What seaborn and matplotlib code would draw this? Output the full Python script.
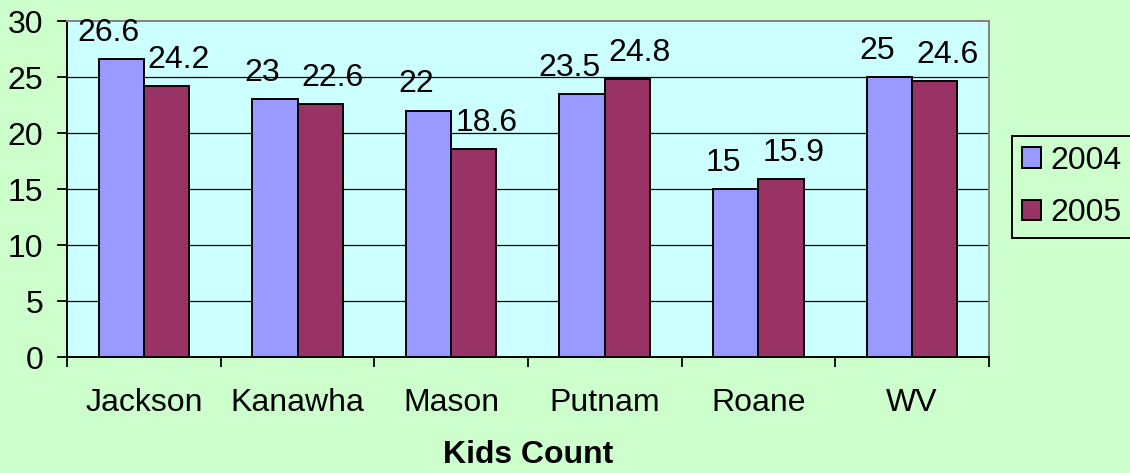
import pandas as pd
import matplotlib
matplotlib.use("Agg")
import matplotlib.pyplot as plt
import seaborn as sns

# Data
counties = ["Jackson", "Kanawha", "Mason", "Putnam", "Roane", "WV"]
years = ["2004", "2005"]
values_2004 = [26.6, 23, 22, 23.5, 15, 25]
values_2005 = [24.2, 22.6, 18.6, 24.8, 15.9, 24.6]
y_ticks = [0, 5, 10, 15, 20, 25, 30]

df = pd.DataFrame({
    "county": counties * 2,
    "year": [years[0]] * len(counties) + [years[1]] * len(counties),
    "value": values_2004 + values_2005,
})

FS = 23

sns.set_theme(style="white")
plt.rcParams["font.family"] = ["Liberation Sans", "DejaVu Sans"]
plt.rcParams["text.color"] = "black"

fig = plt.figure(figsize=(11.3, 4.73), dpi=100, facecolor="#CCFFCC")
ax = fig.add_axes([0.0593, 0.2452, 0.8159, 0.7104])
ax.set_facecolor("#CCFFFF")

sns.barplot(data=df, x="county", y="value", hue="year",
            palette=["#9999FF", "#993366"], width=0.59, errorbar=None,
            edgecolor="black", linewidth=1.4, saturation=1, ax=ax, zorder=3)

# gridlines
ax.set_ylim(0, 30)
ax.set_yticks(y_ticks)
for t in y_ticks[1:-1]:
    ax.axhline(t, color="black", lw=0.9, zorder=1)

# value labels, nudged outwards so neighbours don't collide
for cont, dx in zip(ax.containers, [-9, 9]):
    anns = ax.bar_label(cont, fmt="{:g}", padding=8, fontsize=FS, color="black")
    for a in anns:
        a.xyann = (dx, 8)

ax.set_xlim(-0.5, len(counties) - 0.5)
ax.set_xticks(range(len(counties)))
ax.set_xticklabels(counties)
ax.set_xticks([i - 0.5 for i in range(len(counties) + 1)], minor=True)
ax.tick_params(axis="x", which="major", length=0, pad=22, labelsize=FS, labelcolor="black")
ax.tick_params(axis="x", which="minor", length=7, width=1.3, color="black", bottom=True)
ax.tick_params(axis="y", length=7, width=1.3, pad=10, labelsize=FS, color="black",
               labelcolor="black", left=True)

ax.set_xlabel("Kids Count", fontsize=FS, fontweight="bold", labelpad=16, color="black")
ax.set_ylabel("")

for side in ["left", "bottom"]:
    ax.spines[side].set_color("black")
    ax.spines[side].set_linewidth(1.4)
for side in ["top", "right"]:
    ax.spines[side].set_color("#808080")
    ax.spines[side].set_linewidth(1.4)

handles, labels = ax.get_legend_handles_labels()
ax.get_legend().remove()
leg = fig.legend(handles, labels, loc="center", bbox_to_anchor=(0.9487, 0.6047),
                 fontsize=FS, frameon=True, fancybox=False, facecolor="#CCFFCC",
                 edgecolor="black", handlelength=0.6, handleheight=0.6,
                 handletextpad=0.3, labelspacing=0.7, borderpad=0.3, borderaxespad=0,
                 labelcolor="black")
leg.get_frame().set_linewidth(1.4)
leg.get_frame().set_alpha(None)

fig.savefig("out.png", dpi=100, facecolor=fig.get_facecolor())
